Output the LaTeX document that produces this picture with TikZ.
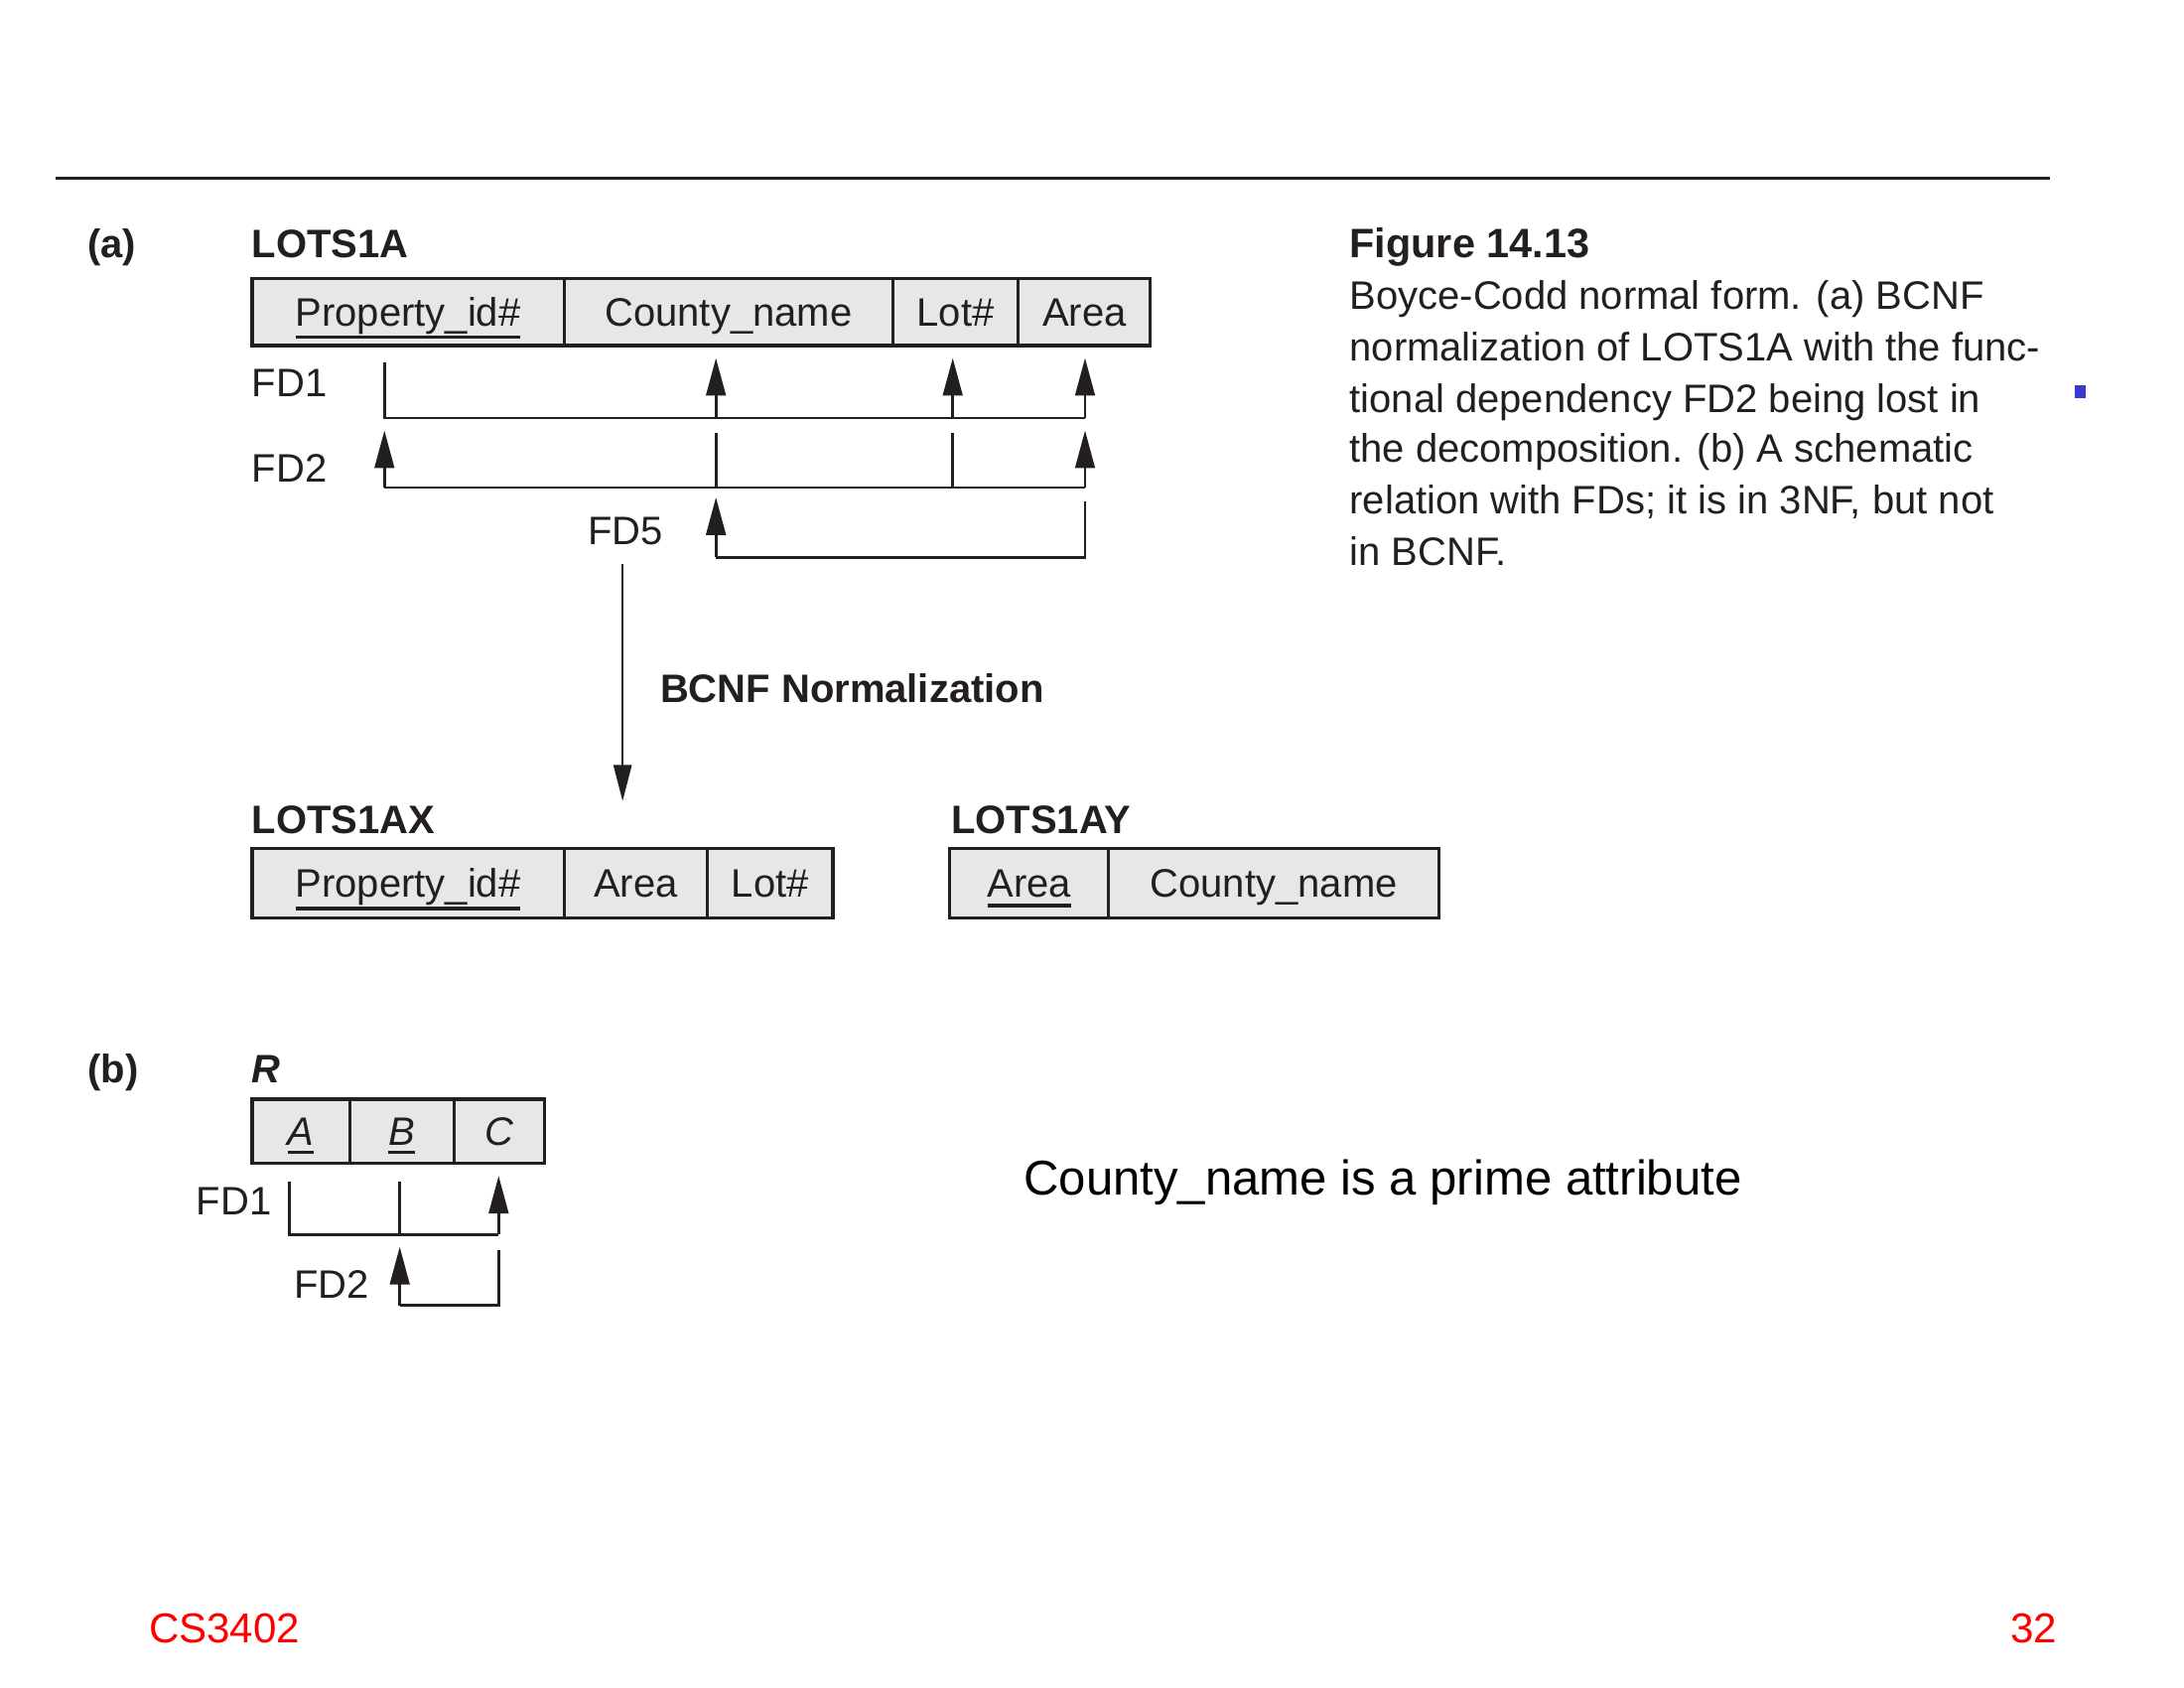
\documentclass[tikz,border=0pt]{standalone}
\usepackage{fontspec}
\setmainfont{Liberation Sans}
\usetikzlibrary{arrows.meta}
\definecolor{ink}{HTML}{231F20}
\definecolor{cellgray}{HTML}{E6E7E8}
\definecolor{slidered}{HTML}{FF0000}
\definecolor{dotblue}{HTML}{3A3AD0}
\newcommand\myul[2][7pt]{\setbox0\hbox{#2}\rlap{\rule[-#1]{\wd0}{2.4pt}}\box0}
\tikzset{
  txt/.style={inner sep=0pt, outer sep=0pt, text=ink, font=\fontsize{28.5}{34}\selectfont},
  lbl/.style={txt, anchor=base west},
  cell/.style={draw=ink, fill=cellgray, line width=2.2pt, minimum height=48pt,
    inner sep=0pt, outer sep=0pt, anchor=north west, text=ink,
    font=\fontsize{28.5}{34}\selectfont, text height=20.5pt, text depth=0pt},
  fd/.style={draw=ink, line width=2pt},
  fdarr/.style={fd, -{Triangle[length=27pt,width=14pt]}},
}
\begin{document}
\begin{tikzpicture}[x=1pt,y=-1pt]
\useasboundingbox (0,0) rectangle (1568,1211.6);
% top rule
\coordinate (ruleL) at (40,128);
\coordinate (ruleR) at (1472,128);
\draw[ink, line width=2pt] (ruleL) -- (ruleR);
% blue dot
\fill[dotblue] (1489.6,276.5) rectangle (1497.5,285.8);

% ---------- (a)
\node[lbl, font=\fontsize{28.5}{34}\selectfont\bfseries] (alab) at (63,185) {(a)};
\node[lbl, font=\fontsize{28.5}{34}\selectfont\bfseries] (lotsA) at (181,185) {LOTS1A};
\node[cell, minimum width=224pt] (pid) at (181,200) {\myul[9pt]{Property\_id\#}};
\node[cell, minimum width=236pt] (cn) at (pid.north east) {County\_name};
\node[cell, minimum width=90pt] (lot) at (cn.north east) {Lot\#};
\node[cell, minimum width=95pt] (area) at (lot.north east) {Area};

% FD1
\node[lbl] (fd1a) at (181,285) {FD1};
\coordinate (f1s) at (276,260);
\coordinate (f1L) at (276,300);
\coordinate (f1R) at (779,300);
\coordinate (f1b) at (514,300);
\coordinate (f1c) at (684,300);
\coordinate (f1bt) at (514,257);
\coordinate (f1ct) at (684,257);
\coordinate (f1rt) at (779,257);
\draw[fd] (f1s) -- (f1L) -- (f1R);
\draw[fdarr] (f1b) -- (f1bt);
\draw[fdarr] (f1c) -- (f1ct);
\draw[fdarr] (f1R) -- (f1rt);

% FD2
\node[lbl] (fd2a) at (181,346) {FD2};
\coordinate (f2L) at (276,350);
\coordinate (f2R) at (779,350);
\coordinate (f2Lt) at (276,309);
\coordinate (f2Rt) at (779,309);
\coordinate (f2b) at (514,350);
\coordinate (f2bt) at (514,311);
\coordinate (f2c) at (684,350);
\coordinate (f2ct) at (684,311);
\draw[fd] (f2L) -- (f2R);
\draw[fd] (f2bt) -- (f2b);
\draw[fd] (f2ct) -- (f2c);
\draw[fdarr] (f2L) -- (f2Lt);
\draw[fdarr] (f2R) -- (f2Rt);

% FD5
\node[lbl] (fd5a) at (422,391) {FD5};
\coordinate (f5L) at (514,400);
\coordinate (f5Lt) at (514,357);
\coordinate (f5R) at (779,400);
\coordinate (f5Rt) at (779,360);
\draw[fd] (f5Rt) -- (f5R) -- (f5L);
\draw[fdarr] (f5L) -- (f5Lt);

% BCNF normalization arrow
\coordinate (bnS) at (447,405);
\coordinate (bnE) at (447,575);
\draw[draw=ink, line width=1.6pt, -{Triangle[length=26pt,width=13pt]}] (bnS) -- (bnE);
\node[lbl, font=\fontsize{28.5}{34}\selectfont\bfseries] (bcnf) at (474,504) {BCNF Normalization};

% LOTS1AX
\node[lbl, font=\fontsize{28.5}{34}\selectfont\bfseries] (lotsX) at (181,598) {LOTS1AX};
\node[cell, minimum width=224pt, minimum height=50pt] (xpid) at (181,609) {\myul[9pt]{Property\_id\#}};
\node[cell, minimum width=103pt, minimum height=50pt] (xarea) at (xpid.north east) {Area};
\node[cell, minimum width=90pt, minimum height=50pt] (xlot) at (xarea.north east) {Lot\#};

% LOTS1AY
\node[lbl, font=\fontsize{28.5}{34}\selectfont\bfseries] (lotsY) at (683,598) {LOTS1AY};
\node[cell, minimum width=114pt, minimum height=50pt] (yarea) at (682,609) {\myul{Area}};
\node[cell, minimum width=237pt, minimum height=50pt] (ycn) at (yarea.north east) {County\_name};

% ---------- (b)
\node[lbl, font=\fontsize{28.5}{34}\selectfont\bfseries] (blab) at (63,777) {(b)};
\node[lbl, font=\fontsize{28.5}{34}\selectfont\bfseries\itshape] (rlab) at (181,777) {R};
\node[cell, minimum width=70pt, minimum height=46pt, font=\fontsize{28.5}{34}\selectfont\itshape] (ra) at (181,789) {\myul[6pt]{A}};
\node[cell, minimum width=75pt, minimum height=46pt, font=\fontsize{28.5}{34}\selectfont\itshape] (rb) at (ra.north east) {\myul[6pt]{B}};
\node[cell, minimum width=65pt, minimum height=46pt, font=\fontsize{28.5}{34}\selectfont\itshape] (rc) at (rb.north east) {C};

\node[lbl] (fd1b) at (141,872) {FD1};
\coordinate (g1a) at (208,848);
\coordinate (g1aL) at (208,886);
\coordinate (g1b) at (287,848);
\coordinate (g1bL) at (287,886);
\coordinate (g1R) at (358,886);
\coordinate (g1Rt) at (358,844);
\draw[fd] (g1a) -- (g1aL) -- (g1R);
\draw[fd] (g1b) -- (g1bL);
\draw[fdarr] (g1R) -- (g1Rt);

\node[lbl] (fd2b) at (211,932) {FD2};
\coordinate (g2L) at (287,937);
\coordinate (g2Lt) at (287,895);
\coordinate (g2R) at (358,937);
\coordinate (g2Rt) at (358,897);
\draw[fd] (g2Rt) -- (g2R) -- (g2L);
\draw[fdarr] (g2L) -- (g2Lt);

% ---------- caption
\node[lbl, font=\fontsize{29.5}{34}\selectfont\bfseries] (figt) at (969,185) {Figure 14.13};
\node[lbl] (cap1) at (969,222) {Boyce-Codd normal form. (a) BCNF};
\node[lbl] (cap2) at (969,259) {normalization of LOTS1A with the func-};
\node[lbl] (cap3) at (969,296) {tional dependency FD2 being lost in};
\node[lbl] (cap4) at (969,332) {the decomposition. (b) A schematic};
\node[lbl] (cap5) at (969,369) {relation with FDs; it is in 3NF, but not};
\node[lbl] (cap6) at (969,406) {in BCNF.};

% note
\node[lbl, text=black, font=\fontsize{35}{40}\selectfont] (note) at (735,857.5) {County\_name is a prime attribute};

% footer
\node[lbl, text=slidered, font=\fontsize{30}{36}\selectfont] (course) at (107,1179) {CS3402};
\node[txt, anchor=base east, text=slidered, font=\fontsize{30}{36}\selectfont] (page) at (1477,1179) {32};
\end{tikzpicture}
\end{document}
